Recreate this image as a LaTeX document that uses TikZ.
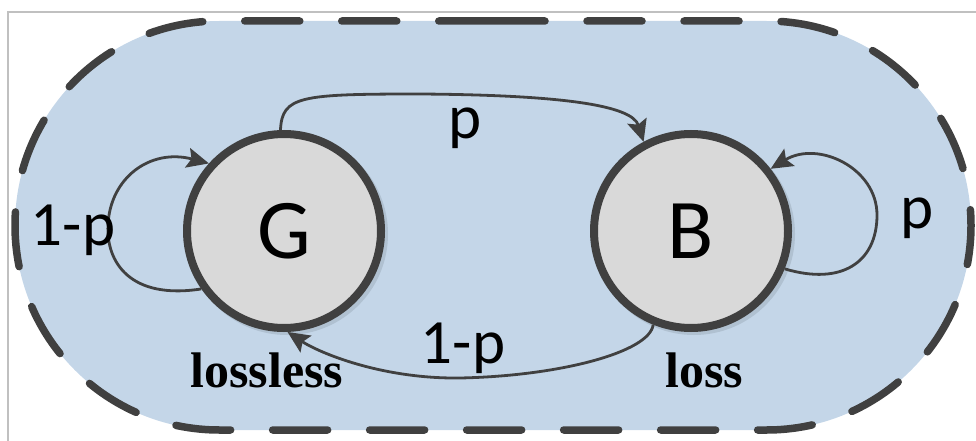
\documentclass[tikz,border=0pt]{standalone}
\usepackage{fontspec}
\setmainfont{Carlito}
\newfontfamily\tnr{Liberation Serif}
\usetikzlibrary{arrows.meta}
\definecolor{bgblue}{HTML}{C4D6E8}
\definecolor{dk}{HTML}{404040}
\definecolor{stfill}{HTML}{D9D9D9}
\definecolor{frame}{HTML}{C0C0C0}
\tikzset{
  statenode/.style={circle, minimum size=194pt, inner sep=0pt, fill=stfill, draw=dk, line width=8pt, font=\fontsize{85}{85}\selectfont},
  edgeline/.style={draw=dk, line width=2.8pt, -{Stealth[length=22pt,width=20pt,inset=4pt]}},
  plabel/.style={anchor=base, inner sep=0pt, font=\fontsize{63}{63}\selectfont},
  slabel/.style={anchor=base, inner sep=0pt, font=\tnr\bfseries\fontsize{50}{50}\selectfont},
}
\begin{document}
\begin{tikzpicture}[x=1pt,y=-1pt]
\useasboundingbox (0,0) rectangle (976,441);
\draw[frame, line width=1.5pt] (8,441) -- (8,12) -- (976,12);
\fill[bgblue] (15,21) [rounded corners=204.4pt] rectangle (971,430);
\draw[dk, line width=7.5pt, line cap=round, dash pattern=on 55pt off 42pt, rounded corners=204.4pt] (490,21) -- (971,21) -- (971,430) -- (15,430) -- (15,21) -- (490,21);
\fill[black!10!bgblue] (287,234) circle (101);
\fill[black!10!bgblue] (694,234) circle (101);
\node[statenode] (G) at (284,231) {G};
\node[statenode] (B) at (691,231) {B};
\draw[edgeline] (G.92) .. controls (282,96) and (300,94) .. (420,94) .. controls (560,95) and (632,105) .. (B.118);
\draw[edgeline] (B.248) .. controls (650,352) and (560,376) .. (460,378) .. controls (380,379) and (318,352) .. (G.272);
\draw[edgeline] (G.215) .. controls (130,300) and (106,262) .. (108,225) .. controls (110,178) and (150,148) .. (G.138);
\draw[edgeline] (B.-22) .. controls (842,286) and (877,262) .. (877,215) .. controls (877,168) and (818,140) .. (B.38);
\node[plabel] (lp1) at (73,245) {1-p};
\node[plabel] (lp2) at (917,228) {p};
\node[plabel] (lp3) at (465,138) {p};
\node[plabel] (lp4) at (463,363) {1-p};
\node[slabel] (lG) at (267,387) {lossless};
\node[slabel] (lB) at (704,387) {loss};
\end{tikzpicture}
\end{document}
